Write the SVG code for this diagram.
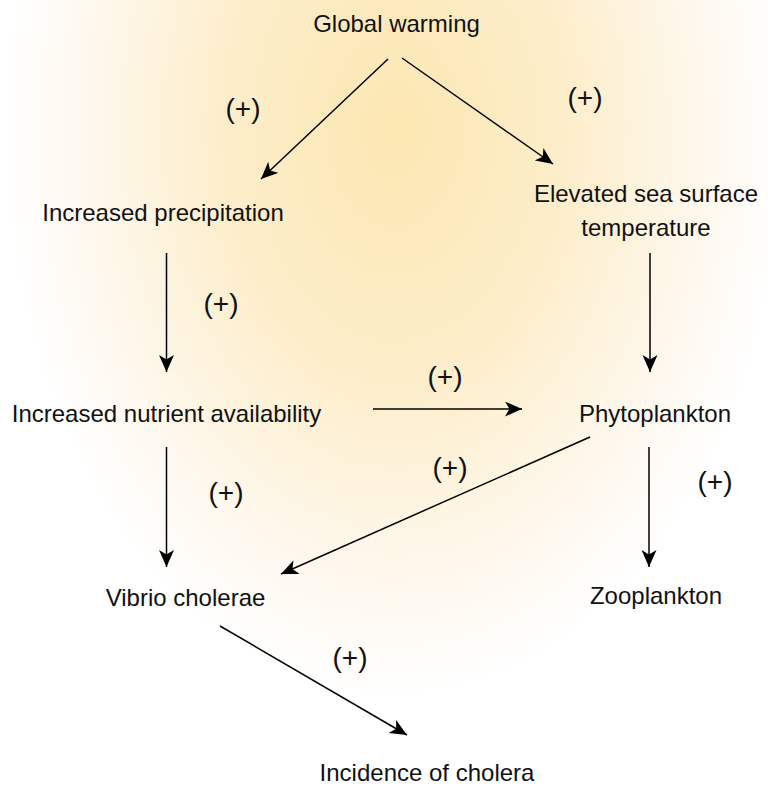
<svg xmlns="http://www.w3.org/2000/svg" width="768" height="786" viewBox="0 0 768 786">
  <defs>
    <radialGradient id="glow" gradientUnits="userSpaceOnUse" cx="395" cy="130" r="390" gradientTransform="translate(395 130) scale(1 1.45) translate(-395 -130)">
      <stop offset="0" stop-color="#FCE7B2"/>
      <stop offset="0.45" stop-color="#FDEECB"/>
      <stop offset="0.8" stop-color="#FEF8EE"/>
      <stop offset="1" stop-color="#FFFFFF"/>
    </radialGradient>
    <marker id="arrow" markerUnits="userSpaceOnUse" markerWidth="20" markerHeight="16" refX="17" refY="7.5" orient="auto">
      <path d="M0,0 L17,7.5 L0,15 L4.5,7.5 Z" fill="#000"/>
    </marker>
    <style>
      .node text { font-family: "Liberation Sans", Arial, sans-serif; font-size: 24px; fill: #111; text-anchor: middle; }
      .edge { stroke: #000; stroke-width: 1.5; fill: none; marker-end: url(#arrow); }
      .lbl { font-family: "Liberation Sans", Arial, sans-serif; font-size: 28px; fill: #111; text-anchor: middle; }
    </style>
  </defs>
  <rect x="0" y="0" width="768" height="786" fill="url(#glow)"/>

  <g id="connectors">
    <line class="edge" x1="388" y1="59" x2="261" y2="179"/>
    <line class="edge" x1="402" y1="58" x2="553" y2="164"/>
    <line class="edge" x1="166.5" y1="253" x2="166.5" y2="372"/>
    <line class="edge" x1="650" y1="253" x2="650" y2="372"/>
    <line class="edge" x1="373" y1="409" x2="522" y2="409"/>
    <line class="edge" x1="166.5" y1="447" x2="166.5" y2="567"/>
    <line class="edge" x1="590" y1="437" x2="281" y2="574"/>
    <line class="edge" x1="649" y1="447" x2="649" y2="567"/>
    <line class="edge" x1="220" y1="626" x2="407" y2="735"/>
    <text class="lbl" x="243" y="118">(+)</text>
    <text class="lbl" x="585" y="107">(+)</text>
    <text class="lbl" x="221" y="313">(+)</text>
    <text class="lbl" x="445" y="386">(+)</text>
    <text class="lbl" x="226" y="502">(+)</text>
    <text class="lbl" x="450" y="477">(+)</text>
    <text class="lbl" x="715" y="491">(+)</text>
    <text class="lbl" x="350" y="667">(+)</text>
  </g>

  <g id="global-warming" class="node"><text x="396.5" y="32">Global warming</text></g>
  <g id="increased-precipitation" class="node"><text x="163" y="221">Increased precipitation</text></g>
  <g id="elevated-sst" class="node"><text x="646" y="202">Elevated sea surface</text><text x="646" y="236">temperature</text></g>
  <g id="nutrient-availability" class="node"><text x="166.5" y="422">Increased nutrient availability</text></g>
  <g id="phytoplankton" class="node"><text x="655" y="422">Phytoplankton</text></g>
  <g id="vibrio-cholerae" class="node"><text x="185.5" y="606">Vibrio cholerae</text></g>
  <g id="zooplankton" class="node"><text x="656" y="604">Zooplankton</text></g>
  <g id="incidence-cholera" class="node"><text x="427" y="781">Incidence of cholera</text></g>
</svg>
